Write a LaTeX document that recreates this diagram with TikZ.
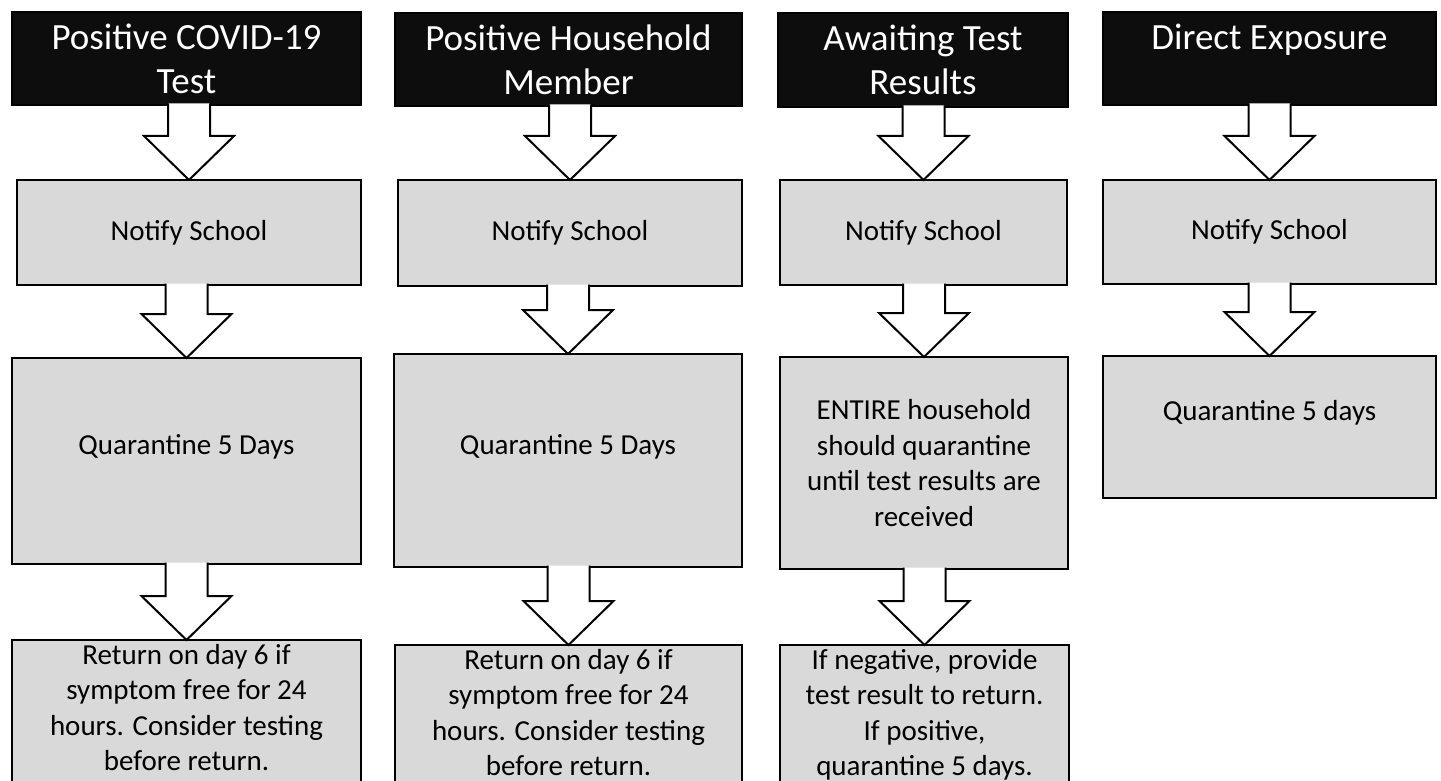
\documentclass[tikz,border=0pt]{standalone}
\usepackage{fontspec}
\setmainfont{Carlito}
\usetikzlibrary{calc}

\definecolor{boxgray}{RGB}{217,217,217}
\definecolor{hdrblack}{RGB}{13,13,13}

\newcommand{\hdrfont}{\fontsize{37}{44}\selectfont}
\newcommand{\boxfont}{\fontsize{29}{35.5}\selectfont}

% hollow block arrow from the bottom of one box to the top of the next
\newcommand{\blockarrow}[2]{%
  \filldraw[arrowshape] let \p1=(#1.south), \p2=(#2.north) in
    (\x2-21pt,\y1+1.5pt) -- (\x2-21pt,\y2+44pt) -- (\x2-45pt,\y2+44pt) -- (\x2,\y2)
    -- (\x2+45pt,\y2+44pt) -- (\x2+21pt,\y2+44pt) -- (\x2+21pt,\y1+1.5pt);}

\begin{document}
\begin{tikzpicture}[x=1pt, y=-1pt,
        every node/.style = {outer sep=0pt, anchor=north west, align=center},
        hdr/.style = {draw, line width=2pt, fill=hdrblack, text=white,
            font=\hdrfont, inner sep=0pt},
        box/.style = {draw, line width=2pt, fill=boxgray,
            font=\boxfont, inner xsep=2pt, inner ysep=4pt},
        boxtext/.style = {anchor=north, font=\boxfont, inner sep=4pt},
        arrowshape/.style = {draw=black, fill=white, line width=2pt, line join=miter}]
    \clip (0,0) rectangle (1441,781);

    % positive test
    \node[hdr, minimum width=349pt, minimum height=93pt] (hdrA) at (12,12) {Positive COVID-19\\Test};
    \node[box, minimum width=344pt, minimum height=105pt] (notA) at (17,180) {Notify School};
    \node[box, minimum width=349pt, minimum height=206pt] (quaA) at (12,358) {Quarantine 5 Days\\[-3pt]\mbox{}};
    \node[box, minimum width=349pt, minimum height=170pt] (retA) at (12,640) {};
    \node[boxtext] (retAtext) at (retA.north) {Return on day 6 if\\symptom free for 24\\hours. Consider testing\\before return.};

    % household member
    \node[hdr, minimum width=347pt, minimum height=93pt] (hdrB) at (395,13) {Positive Household\\Member};
    \node[box, minimum width=344pt, minimum height=106pt] (notB) at (398,180) {Notify School};
    \node[box, minimum width=348pt, minimum height=213pt] (quaB) at (394,354) {Quarantine 5 Days\\[-3pt]\mbox{}};
    \node[box, minimum width=347pt, minimum height=170pt] (retB) at (395,645) {};
    \node[boxtext] (retBtext) at (retB.north) {Return on day 6 if\\symptom free for 24\\hours. Consider testing\\before return.};

    % awaiting results
    \node[hdr, minimum width=290pt, minimum height=94pt] (hdrC) at (778,13) {Awaiting Test\\Results};
    \node[box, minimum width=287pt, minimum height=105pt] (notC) at (780,180) {Notify School};
    \node[box, minimum width=288pt, minimum height=212pt] (quaC) at (780,357) {ENTIRE household\\should quarantine\\until test results are\\received};
    \node[box, minimum width=289pt, minimum height=170pt] (retC) at (780,645) {};
    \node[boxtext] (retCtext) at (retC.north) {If negative, provide\\test result to return.\\If positive,\\quarantine 5 days.};

    % direct exposure
    \node[hdr, minimum width=333pt, minimum height=93pt] (hdrD) at (1103,12) {Direct Exposure\\\mbox{}};
    \node[box, minimum width=333pt, minimum height=104pt] (notD) at (1103,180) {Notify School};
    \node[box, minimum width=333pt, minimum height=142pt] (quaD) at (1103,356) {Quarantine 5 days\\[-3pt]\mbox{}};

    \blockarrow{hdrA}{notA}
    \blockarrow{notA}{quaA}
    \blockarrow{quaA}{retA}
    \blockarrow{hdrB}{notB}
    \blockarrow{notB}{quaB}
    \blockarrow{quaB}{retB}
    \blockarrow{hdrC}{notC}
    \blockarrow{notC}{quaC}
    \blockarrow{quaC}{retC}
    \blockarrow{hdrD}{notD}
    \blockarrow{notD}{quaD}
\end{tikzpicture}
\end{document}
